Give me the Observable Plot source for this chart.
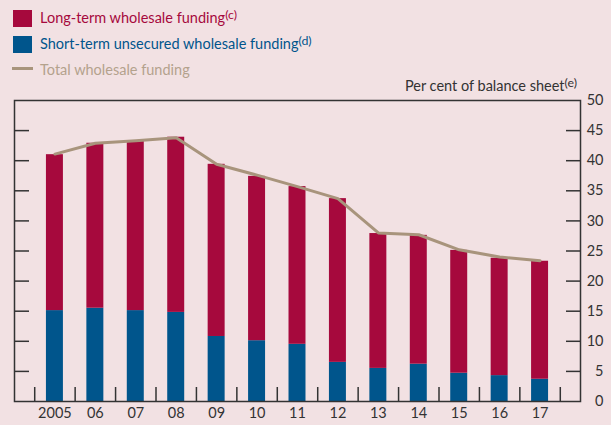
<!DOCTYPE html>
<html><head><meta charset="utf-8">
<script src="https://cdn.jsdelivr.net/npm/d3@7"></script>
<script src="https://cdn.jsdelivr.net/npm/@observablehq/plot@0.6"></script>
<style>
html,body{margin:0;padding:0;background:#f2e1e3;}
body{width:611px;height:425px;overflow:hidden;font-family:Lato,sans-serif;}
#head{position:relative;height:86px;z-index:2;}
.row{position:absolute;left:0;font-size:14.5px;line-height:1;white-space:nowrap;}
.sw{position:absolute;left:13px;width:19px;height:17px;}
.ln{position:absolute;left:12px;width:21px;height:3px;}
.txt{position:absolute;left:40px;top:0;}
sup{font-size:0.85em;vertical-align:baseline;position:relative;top:-0.32em;}
#unit{position:absolute;right:34px;top:79px;font-size:14.5px;line-height:1;color:#333;white-space:nowrap;}
</style></head>
<body>
<div id="head"></div>
<div id="chart"></div>
<script>
const years = [2005, 2006, 2007, 2008, 2009, 2010, 2011, 2012, 2013, 2014, 2015, 2016, 2017];
const tickLabels = ["2005", "06", "07", "08", "09", "10", "11", "12", "13", "14", "15", "16", "17"];
const shortTerm = [15.1, 15.5, 15.1, 14.8, 10.8, 10.1, 9.5, 6.5, 5.5, 6.2, 4.7, 4.3, 3.7];
const longTerm = [25.9, 27.4, 28.1, 29.1, 28.6, 27.3, 26.2, 27.2, 22.4, 21.4, 20.4, 19.5, 19.6];
const totalWholesale = [41.1, 42.9, 43.3, 43.8, 39.4, 37.6, 35.7, 33.7, 28.0, 27.7, 25.2, 24.0, 23.4];
const seriesNames = ["Long-term wholesale funding", "Short-term unsecured wholesale funding", "Total wholesale funding"];
const seriesNotes = ["(c)", "(d)", ""];
const unitLabel = "Per cent of balance sheet";
const unitNote = "(e)";
const yTicks = [0, 5, 10, 15, 20, 25, 30, 35, 40, 45, 50];

const RED = "#a6093d", BLUE = "#00558c", TAN = "#a8947c";

// legend (HTML above the svg)
const head = document.getElementById("head");
const colors = [RED, BLUE, "#b4a28d"];
seriesNames.forEach((name, i) => {
  const row = document.createElement("div");
  row.className = "row";
  row.style.top = (11 + i * 26) + "px";
  row.style.width = "400px";
  row.style.height = "18px";
  const key = document.createElement("div");
  if (i < 2) { key.className = "sw"; key.style.background = [RED, BLUE][i]; key.style.top = "-1px"; }
  else { key.className = "ln"; key.style.background = TAN; key.style.top = "4px"; }
  row.appendChild(key);
  const t = document.createElement("span");
  t.className = "txt";
  t.style.color = colors[i];
  t.textContent = name;
  if (seriesNotes[i]) { const s = document.createElement("sup"); s.textContent = seriesNotes[i]; t.appendChild(s); }
  row.appendChild(t);
  head.appendChild(row);
});
const unit = document.createElement("div");
unit.id = "unit";
unit.textContent = unitLabel;
const us = document.createElement("sup"); us.textContent = unitNote; unit.appendChild(us);
head.appendChild(unit);

const rows = years.map((y, i) => ({year: y, short: shortTerm[i], long: longTerm[i], total: totalWholesale[i]}));
const separators = d3.range(years[0] - 0.5, years[years.length - 1] + 1, 1);
const labelOf = new Map(years.map((y, i) => [y, tickLabels[i]]));
const inner = yTicks.slice(1, -1);
const half = 0.21;

const chart = Plot.plot({
  width: 611,
  height: 339,
  marginTop: 14,
  marginBottom: 24,
  marginLeft: 14,
  marginRight: 31,
  style: {fontFamily: "Lato, sans-serif", fontSize: "14.5px", color: "#333", background: "transparent"},
  x: {type: "linear", domain: [years[0] - 1, years[years.length - 1] + 1]},
  y: {domain: [0, 50]},
  marks: [
    Plot.rectY(rows, {x1: d => d.year - half, x2: d => d.year + half, y1: 0, y2: "short", fill: BLUE}),
    Plot.rectY(rows, {x1: d => d.year - half, x2: d => d.year + half, y1: "short", y2: d => d.short + d.long, fill: RED}),
    Plot.line(rows, {x: "year", y: "total", stroke: TAN, strokeWidth: 3}),
    Plot.axisY(inner, {anchor: "left", tickSize: 15, dx: 15, tickFormat: () => "", label: null, stroke: "#333", strokeWidth: 1.5}),
    Plot.axisY(inner, {anchor: "right", tickSize: 15, dx: -15, tickFormat: () => "", label: null, stroke: "#333", strokeWidth: 1.5}),
    Plot.axisY(yTicks, {anchor: "right", tickSize: 0, tickPadding: 23, textAnchor: "end", label: null, fill: "#333"}),
    Plot.axisX(separators, {anchor: "bottom", tickSize: 14, dy: -14, tickFormat: () => "", label: null, stroke: "#333", strokeWidth: 1.5}),
    Plot.axisX(years, {anchor: "bottom", tickSize: 0, tickPadding: 6, tickFormat: d => labelOf.get(d), label: null, fill: "#333"}),
    Plot.frame({stroke: "#333", strokeWidth: 1.5})
  ]
});
document.getElementById("chart").appendChild(chart);
</script>
</body></html>
